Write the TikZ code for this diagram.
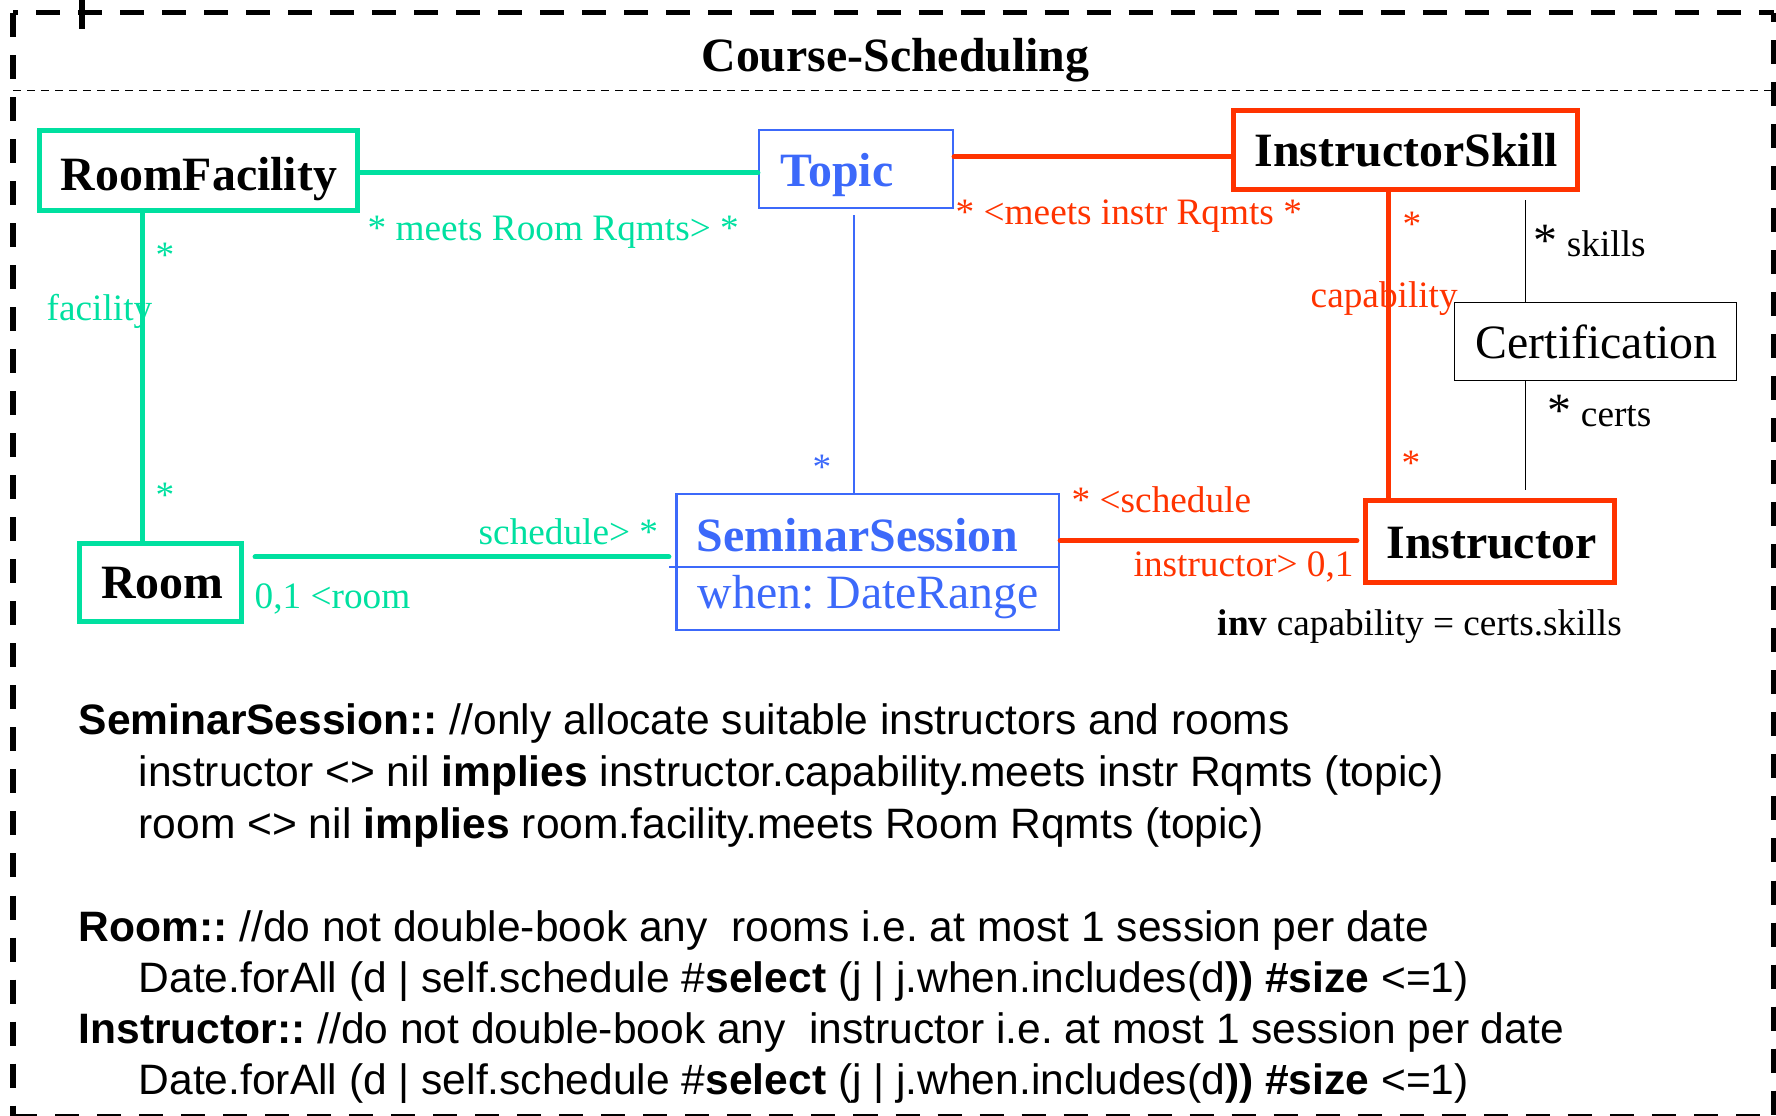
\documentclass[tikz,border=0pt]{standalone}
\usepackage{fontspec}
\setmainfont{Liberation Serif}
\newfontfamily\codefont{Liberation Sans}
\definecolor{umlgreen}{RGB}{0,224,160}
\definecolor{umlred}{RGB}{255,51,0}
\definecolor{umlblue}{RGB}{60,105,250}
\frenchspacing

\begin{document}
\begin{tikzpicture}[x=0.01cm,y=-0.01cm,
  classbox/.style={draw, inner sep=0pt},
  thickbox/.style={classbox, line width=0.05cm},
  thinbox/.style={classbox, line width=0.02cm},
  cname/.style={anchor=base west, inner sep=0pt, font=\fontsize{13.6}{16}\selectfont\bfseries},
  cattr/.style={anchor=base west, inner sep=0pt, font=\fontsize{13.6}{16}\selectfont},
  lbl/.style={anchor=base west, inner sep=0pt, font=\fontsize{10.6}{12.7}\selectfont},
  mult/.style={anchor=base, inner sep=0pt, font=\fontsize{10.6}{12.7}\selectfont},
  code/.style={anchor=base west, inner sep=0pt, font=\codefont\fontsize{12.1}{14.5}\selectfont},
  assoc/.style={line width=0.05cm, line cap=round},
  framedash/.style={line width=0.05cm, dash pattern=on 0.24cm off 0.18cm},
]
\useasboundingbox (0,0) rectangle (1776,1116);

% package frame
\draw[framedash] (13,13) -- (13,1116.5);
\draw[framedash, dash phase=0.19cm] (13,13) -- (1773.5,13);
\draw[framedash, dash phase=0.15cm] (1773.5,13) -- (1773.5,1116.5);
\draw[framedash] (13,1116.5) -- (1773.5,1116.5);
\draw[line width=0.055cm] (82,0) -- (82,29);
\draw[line width=0.013cm, dash pattern=on 0.08cm off 0.06cm] (13,90.7) -- (1773.5,90.7);
\node[anchor=base, inner sep=0pt, font=\fontsize{13.6}{16}\selectfont\bfseries] (title) at (895.5,72) {Course-Scheduling};

% classes
\node[thickbox, draw=umlgreen, minimum width=3.18cm, minimum height=0.80cm] (rf) at (198.5,170.5) {};
\node[cname] (rf-t) at (60,190.7) {RoomFacility};

\node[thinbox, draw=umlblue, minimum width=1.94cm, minimum height=0.78cm] (topic) at (856,169) {};
\node[cname, text=umlblue] (topic-t) at (780,187) {Topic};

\node[thickbox, draw=umlred, minimum width=3.44cm, minimum height=0.79cm] (is) at (1405.5,150) {};
\node[cname] (is-t) at (1254,166.7) {InstructorSkill};

\node[classbox, line width=0.015cm, minimum width=2.815cm, minimum height=0.775cm] (cert) at (1595.5,341.5) {};
\node[cattr] (cert-t) at (1475,359) {Certification};

\node[thickbox, draw=umlgreen, minimum width=1.615cm, minimum height=0.78cm] (room) at (160.75,582.5) {};
\node[cname] (room-t) at (100.5,599) {Room};

\node[thinbox, draw=umlblue, minimum width=3.824cm, minimum height=1.36cm] (ss) at (867.8,562) {};
\draw[umlblue, line width=0.02cm, shorten <=-0.06cm] (ss.west |- 0,567) -- (ss.east |- 0,567);
\node[cname, text=umlblue] (ss-t) at (696,551.7) {SeminarSession};
\node[cattr, text=umlblue] (ss-a) at (697,609) {when: DateRange};

\node[thickbox, draw=umlred, minimum width=2.49cm, minimum height=0.82cm] (instr) at (1490,541.5) {};
\node[cname] (instr-t) at (1385.7,559) {Instructor};

% associations
\draw[assoc, umlgreen] (rf.east |- 0,173) -- (topic.west |- 0,173);
\draw[assoc, umlgreen] (rf.south -| 142,0) -- (room.north -| 142,0);
\draw[umlblue, line width=0.02cm, shorten <=0.06cm] (topic.south -| 853.6,0) -- (ss.north -| 853.6,0);
\draw[assoc, umlred] (topic.east |- 0,157) -- (is.west |- 0,157);
\draw[assoc, umlred] (is.south -| 1388.6,0) -- (instr.north -| 1388.6,0);
\draw[line width=0.015cm, shorten <=0.08cm] (is.south -| 1525.7,0) -- (cert.north -| 1525.7,0);
\draw[line width=0.015cm, shorten >=0.075cm] (cert.south -| 1525.7,0) -- (instr.north -| 1525.7,0);
\draw[assoc, umlgreen, shorten <=0.11cm, shorten >=0.066cm] (room.east |- 0,557) -- (ss.west |- 0,557);
\draw[assoc, umlred, shorten >=0.06cm] (ss.east |- 0,540.7) -- (instr.west |- 0,540.7);

% role names and multiplicities
\node[lbl, text=umlgreen] (rf-topic-l) at (367,241) {* meets Room Rqmts> *};
\node[mult, text=umlgreen] (rf-m) at (165,268) {*};
\node[lbl, text=umlgreen] (facility-l) at (46,321) {facility};
\node[mult, text=umlgreen] (room-m) at (165,508) {*};
\node[lbl, text=umlgreen] (sched-l) at (478,545) {schedule> *};
\node[lbl, text=umlgreen] (room-l) at (254,609) {0,1 <room};
\node[mult, text=umlblue] (ss-m) at (822,480) {*};
\node[lbl, text=umlred] (instr-rq-l) at (955,225) {* <meets instr Rqmts *};
\node[mult, text=umlred] (is-m) at (1412,237) {*};
\node[lbl, text=umlred] (cap-l) at (1310,308) {capability};
\node[mult, text=umlred] (instr-m) at (1411,476) {*};
\node[lbl] (skills-l) at (1533,257) {{\fontsize{13.6}{16}\selectfont*} skills};
\node[lbl] (certs-l) at (1547,427) {{\fontsize{13.6}{16}\selectfont*} certs};
\node[lbl, text=umlred] (isched-l) at (1071,513) {* <schedule};
\node[lbl, text=umlred] (instr-l) at (1133,577) {instructor> 0,1};
\node[lbl] (inv-l) at (1217,636) {\textbf{inv} capability = certs.skills};

% constraints
\node[code] (c1) at (78,734) {\textbf{SeminarSession::} //only allocate suitable instructors and rooms};
\node[code] (c2) at (138,786) {instructor <> nil \textbf{implies} instructor.capability.meets instr Rqmts (topic)};
\node[code] (c3) at (138,838) {room <> nil \textbf{implies} room.facility.meets Room Rqmts (topic)};
\node[code] (c4) at (78,941) {\textbf{Room::} //do not double-book any\ \ rooms i.e. at most 1 session per date};
\node[code] (c5) at (138,992) {Date.forAll (d | self.schedule \#\textbf{select} (j | j.when.includes(d\textbf{))} \textbf{\#size} <=1)};
\node[code] (c6) at (78,1043) {\textbf{Instructor::} //do not double-book any\ \ instructor i.e. at most 1 session per date};
\node[code] (c7) at (138,1094) {Date.forAll (d | self.schedule \#\textbf{select} (j | j.when.includes(d\textbf{))} \textbf{\#size} <=1)};
\end{tikzpicture}
\end{document}
